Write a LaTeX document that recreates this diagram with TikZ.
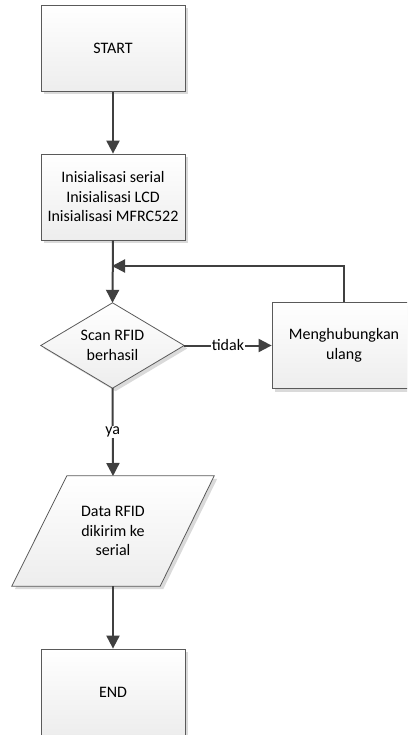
\documentclass[tikz,border=0pt]{standalone}
\usepackage{fontspec}
\setmainfont{Carlito}
\usetikzlibrary{arrows.meta,shadows,calc}
\definecolor{edgegray}{HTML}{5A5A5A}
\definecolor{linegray}{HTML}{404040}
\definecolor{shadowgray}{HTML}{DADADA}
\tikzset{
  boxshape/.style={draw=edgegray, line width=0.8pt, shading=axis, top color=white, bottom color=black!7,
    drop shadow={shadow xshift=3pt, shadow yshift=-3pt, fill=shadowgray, opacity=1}},
  boxnode/.style={rectangle, inner sep=0pt, align=center, font=\fontsize{16}{19.5}\selectfont,
    minimum width=144pt, minimum height=86pt},
  holder/.style={rectangle, inner sep=0pt, align=center, font=\fontsize{16}{19.5}\selectfont},
  flow/.style={draw=linegray, line width=2pt, -{Triangle[length=13pt,width=13pt]}, color=linegray},
  plain/.style={draw=linegray, line width=2pt},
  lbl/.style={fill=white, inner sep=1pt, font=\fontsize{16}{19.5}\selectfont, text=black}
}
\begin{document}
\begin{tikzpicture}[x=1pt,y=-1pt]
\useasboundingbox (0,0) rectangle (407,735);
\clip (0,0) rectangle (407,735);
\fill[white] (0,0) rectangle (407,735);

% boxes
\node[boxnode, boxshape] (start) at (113,48.5) {START};
\node[boxnode, boxshape, minimum height=86pt] (init) at (113,197) {Inisialisasi serial\\Inisialisasi LCD\\Inisialisasi MFRC522};
\node[boxnode, boxshape] (reconn) at (344,345.5) {Menghubungkan\\ulang};
\node[boxnode, boxshape] (end) at (113,692) {END};

% diamond
\node[holder, minimum width=143pt, minimum height=85pt] (scan) at (112.5,345.5) {};
\path[boxshape] (scan.north) -- (scan.east) -- (scan.south) -- (scan.west) -- cycle;
\node[holder] at (scan.center) {Scan RFID\\berhasil};

% parallelogram
\node[holder, minimum width=202pt, minimum height=110pt] (data) at (113,531) {};
\path[boxshape] ($(data.north west)+(55,0)$) -- (data.north east) -- ($(data.south east)+(-54,0)$) -- (data.south west) -- cycle;
\node[holder] at (data.center) {Data RFID\\dikirim ke\\serial};
\coordinate (datatop) at (113,476);
\coordinate (databot) at (113,586);

% connectors
\coordinate (join) at (113,266);
\draw[flow] (start.south) -- (init.north);
\draw[flow] (init.south) -- (scan.north);
\draw[flow, shorten >=-1pt] (reconn.north) |- (join);
\draw[flow] (scan.east) -- node[lbl] {tidak} (reconn.west);
\draw[flow] (scan.south) -- node[lbl] {ya} (datatop);
\draw[flow] (databot) -- (end.north);
\end{tikzpicture}
\end{document}
